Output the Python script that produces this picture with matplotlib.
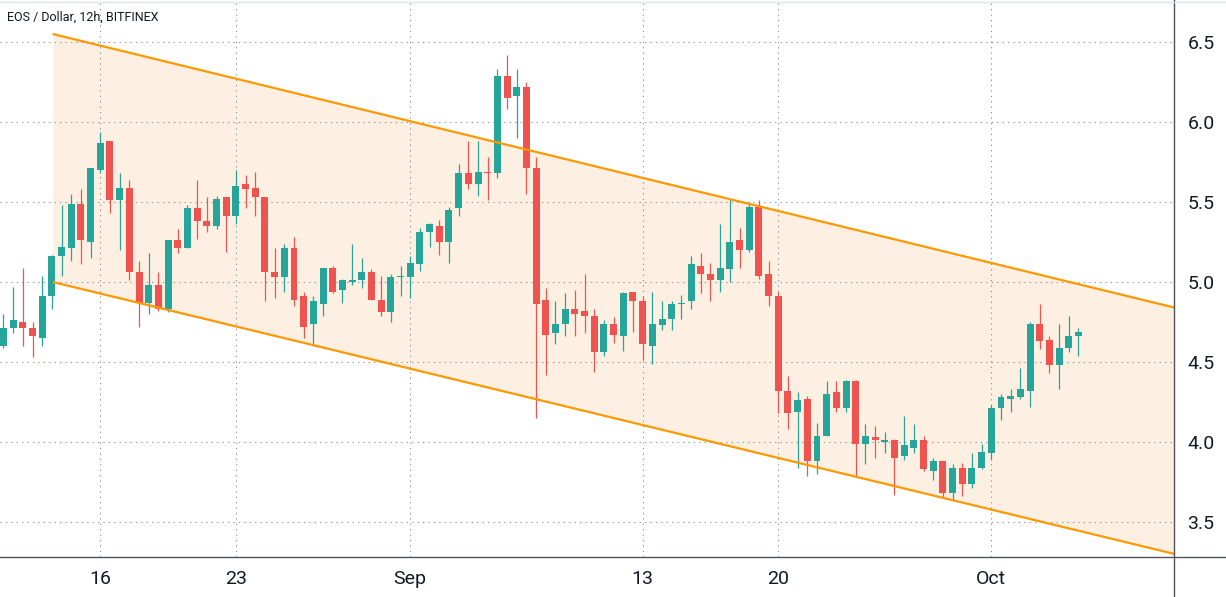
# %% --------------- IMPORTS                                      ---------------------------------------------------- #
from matplotlib import pyplot as plt
from matplotlib.lines import Line2D
import matplotlib.dates as mdates
import pandas as pd


# %% --------------- DATA (EOS / USD, 12h candles, Bitfinex)      ---------------------------------------------------- #
start_time = "2021-08-11 00:00"
n_candles = 112

opens = [4.60, 4.71, 4.75, 4.71, 4.65, 4.91, 5.16, 5.21, 5.49, 5.25,
         5.70, 5.88, 5.51, 5.59, 5.06, 4.87, 4.98, 4.83, 5.26, 5.21,
         5.46, 5.38, 5.35, 5.53, 5.41, 5.61, 5.59, 5.53, 5.06, 5.03,
         5.21, 4.91, 4.74, 4.86, 5.09, 4.95, 5.00, 5.01, 5.06, 4.89,
         4.81, 5.03, 5.03, 5.11, 5.31, 5.35, 5.25, 5.46, 5.68, 5.61,
         5.69, 5.68, 6.29, 6.16, 6.22, 5.71, 4.89, 4.68, 4.74, 4.83,
         4.82, 4.79, 4.56, 4.74, 4.66, 4.94, 4.88, 4.60, 4.73, 4.77,
         4.86, 4.88, 5.10, 5.05, 5.01, 5.08, 5.26, 5.20, 5.47, 5.05,
         4.91, 4.32, 4.19, 4.27, 3.88, 4.04, 4.31, 4.21, 4.38, 3.99,
         4.03, 4.00, 4.01, 3.91, 3.96, 4.01, 3.82, 3.88, 3.68, 3.84,
         3.74, 3.84, 3.93, 4.21, 4.27, 4.28, 4.32, 4.74, 4.64, 4.48,
         4.59, 4.66]
highs = [4.80, 4.97, 5.09, 4.75, 5.04, 5.17, 5.48, 5.55, 5.58, 5.71,
         5.94, 5.88, 5.68, 5.64, 5.13, 5.18, 5.06, 5.26, 5.33, 5.48,
         5.64, 5.53, 5.54, 5.53, 5.70, 5.67, 5.69, 5.53, 5.21, 5.24,
         5.28, 4.94, 4.91, 5.09, 5.10, 5.02, 5.24, 5.15, 5.08, 5.04,
         5.05, 5.10, 5.16, 5.34, 5.37, 5.39, 5.47, 5.74, 5.88, 5.88,
         5.78, 6.33, 6.42, 6.33, 6.25, 5.78, 4.96, 4.88, 4.93, 4.95,
         5.05, 4.83, 4.76, 4.78, 4.94, 4.94, 4.91, 4.94, 4.88, 4.88,
         4.92, 5.16, 5.18, 5.12, 5.36, 5.52, 5.34, 5.50, 5.51, 5.13,
         4.94, 4.41, 4.31, 4.29, 4.12, 4.38, 4.38, 4.39, 4.39, 4.11,
         4.10, 4.06, 4.02, 4.16, 4.11, 4.04, 3.90, 3.88, 3.86, 3.87,
         3.93, 3.99, 4.23, 4.30, 4.33, 4.46, 4.75, 4.86, 4.66, 4.74,
         4.79, 4.71]
lows = [4.59, 4.68, 4.60, 4.53, 4.60, 4.83, 5.04, 5.13, 5.11, 5.15,
        5.68, 5.43, 5.20, 5.01, 4.72, 4.80, 4.82, 4.81, 5.18, 5.21,
        5.27, 5.31, 5.33, 5.19, 5.36, 5.46, 5.41, 4.88, 4.90, 4.94,
        4.85, 4.65, 4.60, 4.79, 4.93, 4.87, 4.98, 4.96, 4.89, 4.79,
        4.75, 4.91, 4.90, 5.07, 5.22, 5.17, 5.12, 5.41, 5.58, 5.54,
        5.51, 5.65, 6.08, 5.90, 5.55, 4.15, 4.42, 4.61, 4.66, 4.66,
        4.68, 4.44, 4.54, 4.62, 4.57, 4.69, 4.51, 4.49, 4.70, 4.70,
        4.77, 4.83, 4.93, 4.88, 4.94, 5.00, 5.09, 5.19, 5.02, 4.85,
        4.18, 4.08, 3.84, 3.79, 3.80, 4.04, 4.19, 4.19, 3.79, 3.86,
        3.90, 3.93, 3.67, 3.89, 3.93, 3.82, 3.76, 3.65, 3.63, 3.66,
        3.71, 3.83, 3.89, 4.14, 4.19, 4.27, 4.22, 4.58, 4.43, 4.33,
        4.56, 4.54]
closes = [4.71, 4.76, 4.71, 4.66, 4.91, 5.16, 5.22, 5.49, 5.26, 5.71,
          5.87, 5.51, 5.59, 5.06, 4.87, 4.98, 4.83, 5.26, 5.21, 5.46,
          5.38, 5.35, 5.52, 5.41, 5.60, 5.58, 5.53, 5.06, 5.03, 5.21,
          4.89, 4.72, 4.88, 5.09, 4.94, 5.01, 5.01, 5.06, 4.89, 4.81,
          5.03, 5.04, 5.12, 5.31, 5.36, 5.25, 5.45, 5.68, 5.61, 5.69,
          5.68, 6.29, 6.15, 6.22, 5.71, 4.86, 4.67, 4.74, 4.83, 4.80,
          4.79, 4.56, 4.74, 4.67, 4.93, 4.88, 4.61, 4.74, 4.77, 4.86,
          4.87, 5.11, 5.05, 5.01, 5.09, 5.25, 5.20, 5.47, 5.04, 4.91,
          4.32, 4.18, 4.26, 3.88, 4.04, 4.30, 4.21, 4.38, 3.99, 4.04,
          4.01, 4.01, 3.90, 3.98, 4.01, 3.83, 3.88, 3.68, 3.84, 3.74,
          3.84, 3.94, 4.21, 4.28, 4.29, 4.33, 4.74, 4.63, 4.48, 4.59,
          4.66, 4.69]

# descending channel drawn on the chart (two anchor points per line)
channel_times = ["2021-08-13 13:00", "2021-10-10 11:00"]
channel_upper = [6.55, 4.84]
channel_lower = [5.00, 3.30]

price_ticks = [3.5, 4.0, 4.5, 5.0, 5.5, 6.0, 6.5]
date_ticks = ["2021-08-16", "2021-08-23", "2021-09-01", "2021-09-13", "2021-09-20", "2021-10-01"]
date_tick_labels = ["16", "23", "Sep", "13", "20", "Oct"]

title = "EOS / Dollar, 12h, BITFINEX"


# %% --------------- STYLE                                        ---------------------------------------------------- #
up_color = "#26a69a"
down_color = "#ef5350"
channel_color = "#ff9800"
fill_color = "#fdf0e2"
grid_color = "#8a8d94"
axis_color = "#50535e"
text_color = "#131722"

plt.rcParams["font.family"] = ["Roboto", "DejaVu Sans"]

W, H = 1226, 597
ax_right_px, ax_bottom_px = 1174.3, 557


# %% --------------- PLOT                                         ---------------------------------------------------- #
fig = plt.figure(figsize=(W / 100, H / 100), dpi=100)
ax = fig.add_axes([0, (H - ax_bottom_px) / H, ax_right_px / W, ax_bottom_px / H])

times = pd.date_range(start_time, periods=n_candles, freq="12h")
t_num = mdates.date2num(times)

# channel
ch_x = mdates.date2num(pd.to_datetime(channel_times))
ax.fill_between(ch_x, channel_lower, channel_upper, color=fill_color, linewidth=0, zorder=1)

# candles
for t, o, h, l, c in zip(t_num, opens, highs, lows, closes):
    col = up_color if c >= o else down_color
    ax.vlines(t, l, h, color=col, linewidth=0.9, zorder=3)
    ax.bar(t, max(abs(c - o), 0.008), bottom=min(o, c), width=0.36, color=col, linewidth=0, zorder=3)

ax.plot(ch_x, channel_upper, color=channel_color, linewidth=1.6, zorder=4, solid_capstyle="butt")
ax.plot(ch_x, channel_lower, color=channel_color, linewidth=1.6, zorder=4, solid_capstyle="butt")

# axes limits: 160 px per 1.0 price, 6.5 sits 42 px below top
ax.set_ylim(6.5 - (ax_bottom_px - 42) / 160, 6.5 + 42 / 160)
px_per_day = 19.37
ax.set_xlim(t_num[0] - 3.45 / px_per_day, t_num[0] + (ax_right_px - 3.45) / px_per_day)

# grid
ax.set_yticks(price_ticks)
ax.set_yticklabels([f"{p:.1f}" for p in price_ticks])
ax.set_xticks(mdates.date2num(pd.to_datetime(date_ticks)))
ax.set_xticklabels(date_tick_labels)
ax.grid(True, color=grid_color, linewidth=0.75, linestyle=(0, (1.2, 4)), zorder=2)
ax.set_axisbelow(False)

ax.yaxis.tick_right()
ax.tick_params(axis="y", length=0, pad=9.5, labelsize=14, labelcolor=text_color)
ax.tick_params(axis="x", length=0, pad=9, labelsize=14, labelcolor=text_color)

for side in ["top", "left", "right", "bottom"]:
    ax.spines[side].set_visible(False)

# axis borders spanning the whole figure like the TradingView panes
fig.add_artist(Line2D([0, 1], [(H - ax_bottom_px) / H] * 2, color=axis_color, linewidth=1.0))
fig.add_artist(Line2D([ax_right_px / W] * 2, [0, 1], color=axis_color, linewidth=1.0))
fig.add_artist(Line2D([0, 1], [1 - 1.5 / H] * 2, color="#e0e3eb", linewidth=1.0))

fig.text(7 / W, 1 - 17 / H, title, fontsize=9, color=text_color, va="center", ha="left")

fig.savefig("out.png", dpi=100)
